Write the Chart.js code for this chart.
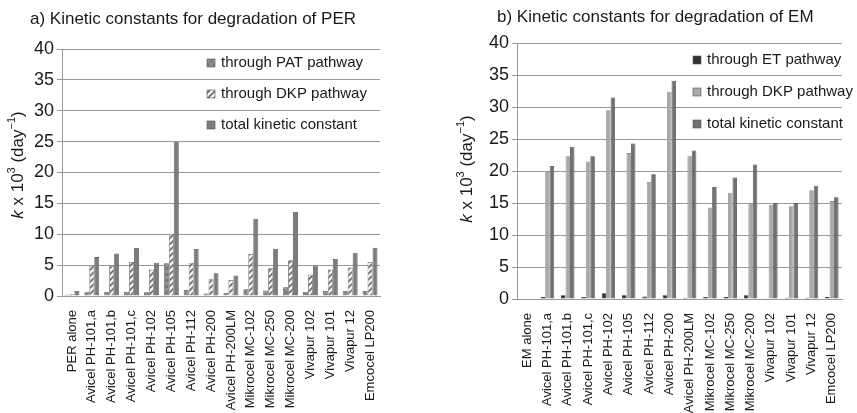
<!DOCTYPE html>
<html>
<head>
<meta charset="utf-8">
<title>Kinetic constants</title>
<style>
  body { margin: 0; background: #fff; }
  .wrap { position: relative; width: 857px; height: 413px; }
  #chartA { position: absolute; left: 0; top: 0; }
  #chartB { position: absolute; left: 430px; top: 0; }
</style>
</head>
<body>
<div class="wrap">
  <canvas id="chartA" width="430" height="413"></canvas>
  <canvas id="chartB" width="427" height="413"></canvas>
</div>
<script src="https://cdn.jsdelivr.net/npm/chart.js@4.4.1/dist/chart.umd.min.js"></script>
<script>
const yTicks = [0, 5, 10, 15, 20, 25, 30, 35, 40]

const perLabels = ['PER alone', 'Avicel PH-101,a', 'Avicel PH-101,b', 'Avicel PH-101,c', 'Avicel PH-102', 'Avicel PH-105',
  'Avicel PH-112', 'Avicel PH-200', 'Avicel PH-200LM', 'Mikrocel MC-102', 'Mikrocel MC-250', 'Mikrocel MC-200',
  'Vivapur 102', 'Vivapur 101', 'Vivapur 12', 'Emcocel LP200']
const perPAT   = [0.2, 0.7, 0.7, 0.7, 0.6, 5.3, 1.0, 0.4, 0.5, 1.1, 0.9, 1.4, 0.7, 0.8, 0.8, 0.8]
const perDKP   = [0.3, 4.9, 4.9, 5.5, 4.3, 10.1, 5.4, 2.7, 2.6, 6.8, 4.5, 5.8, 3.5, 4.3, 4.6, 5.5]
const perTotal = [0.8, 6.3, 6.9, 7.8, 5.4, 25.0, 7.6, 3.7, 3.3, 12.5, 7.6, 13.6, 4.9, 6.0, 7.0, 7.8]

const emLabels = ['EM alone', 'Avicel PH-101,a', 'Avicel PH-101,b', 'Avicel PH-101,c', 'Avicel PH-102', 'Avicel PH-105',
  'Avicel PH-112', 'Avicel PH-200', 'Avicel PH-200LM', 'Mikrocel MC-102', 'Mikrocel MC-250', 'Mikrocel MC-200',
  'Vivapur 102', 'Vivapur 101', 'Vivapur 12', 'Emcocel LP200']
const emET    = [0, 0.3, 0.6, 0.3, 0.9, 0.6, 0.4, 0.6, 0.2, 0.3, 0.3, 0.6, 0.1, 0.2, 0.2, 0.3]
const emDKP   = [0, 20.0, 22.3, 21.5, 29.5, 22.8, 18.3, 32.4, 22.4, 14.3, 16.6, 15.0, 14.7, 14.5, 17.0, 15.3]
const emTotal = [0, 20.8, 23.8, 22.3, 31.5, 24.3, 19.5, 34.1, 23.2, 17.5, 19.0, 21.0, 15.0, 15.0, 17.7, 15.9]

const FONT = 'Liberation Sans, Arial, sans-serif'

function makePattern(kind) {
  let c = document.createElement('canvas')
  c.width = 6; c.height = 6
  let g = c.getContext('2d')
  if (kind === 'hatch') {
    g.fillStyle = '#f4f4f4'
    g.fillRect(0, 0, 6, 6)
    g.strokeStyle = '#6a6a6a'
    g.lineWidth = 1.6
    g.beginPath()
    g.moveTo(-1, 7); g.lineTo(7, -1)
    g.moveTo(-4, 4); g.lineTo(4, -4)
    g.moveTo(2, 10); g.lineTo(10, 2)
    g.stroke()
  } else {
    g.fillStyle = '#929292'
    g.fillRect(0, 0, 6, 6)
    g.fillStyle = '#7a7a7a'
    g.fillRect(0, 0, 3, 3)
    g.fillRect(3, 3, 3, 3)
  }
  return document.createElement('canvas').getContext('2d').createPattern(c, 'repeat')
}

// titles, y title with italic k, and legend drawn inside the plot
const decor = {
  id: 'decor',
  afterDraw(chart, args, o) {
    let ctx = chart.ctx
    ctx.save()
    ctx.fillStyle = '#1a1a1a'
    ctx.textBaseline = 'middle'
    ctx.textAlign = 'left'
    ctx.font = '17px ' + FONT
    ctx.fillText(o.title, o.titleX, o.titleY)

    // y axis title
    ctx.save()
    ctx.translate(o.yTitleX, o.yTitleY)
    ctx.rotate(-Math.PI / 2)
    ctx.textAlign = 'left'
    let parts = [['italic 17px ', 'k', 0], ['17px ', ' x 10', 0], ['11px ', '3', -6], ['17px ', ' (day', 0], ['11px ', '\u22121', -6], ['17px ', ')', 0]]
    let total = 0
    for (let p of parts) { ctx.font = p[0] + FONT; total += ctx.measureText(p[1]).width }
    let x = -total / 2
    for (let p of parts) {
      ctx.font = p[0] + FONT
      ctx.fillText(p[1], x, p[2])
      x += ctx.measureText(p[1]).width
    }
    ctx.restore()

    // legend
    ctx.font = '15px ' + FONT
    chart.data.datasets.forEach((ds, i) => {
      let y = o.legY + i * o.legStep
      ctx.fillStyle = ds.backgroundColor
      ctx.fillRect(o.legX, y - 4, 8, 8)
      ctx.strokeStyle = '#555'
      ctx.lineWidth = 0.6
      ctx.strokeRect(o.legX, y - 4, 8, 8)
      ctx.fillStyle = '#1a1a1a'
      ctx.fillText(ds.label, o.legX + 14, y)
    })
    ctx.restore()
  }
}

function makeChart(id, labels, sets, pad, xHeight, decorOpts, catPct) {
  return new Chart(document.getElementById(id), {
    type: 'bar',
    data: {
      labels: labels,
      datasets: sets.map(s => ({
        label: s.label,
        data: s.data,
        backgroundColor: s.color,
        borderColor: s.border,
        borderWidth: 0.8,
        categoryPercentage: catPct,
        barPercentage: 1
      }))
    },
    options: {
      responsive: false,
      animation: false,
      layout: { padding: pad },
      plugins: { legend: { display: false }, title: { display: false }, tooltip: { enabled: false }, decor: decorOpts },
      scales: {
        x: {
          grid: { display: false },
          border: { color: '#999', width: 1 },
          ticks: { color: '#1a1a1a', font: { family: FONT, size: 13 }, maxRotation: 90, minRotation: 90, autoSkip: false, padding: 6 },
          afterFit: s => { s.height = xHeight }
        },
        y: {
          min: 0, max: 40,
          afterBuildTicks: s => { s.ticks = yTicks.map(v => ({ value: v })) },
          grid: { color: '#9a9a9a', lineWidth: 1, tickLength: 5, drawTicks: true },
          border: { display: true, color: '#999', width: 1 },
          ticks: { color: '#1a1a1a', font: { family: FONT, size: 18 }, padding: 3 },
          afterFit: s => { s.width = pad.yWidth }
        }
      }
    },
    plugins: [decor]
  })
}

let hatch = makePattern('hatch')
let dots = makePattern('dots')

makeChart('chartA', perLabels, [
  { label: 'through PAT pathway', data: perPAT, color: dots, border: '#5a5a5a' },
  { label: 'through DKP pathway', data: perDKP, color: hatch, border: '#666' },
  { label: 'total kinetic constant', data: perTotal, color: '#7c7c7c', border: '#555' }
], { top: 49, left: 0, right: 50, bottom: 0, yWidth: 62 }, 117,
  { title: 'a) Kinetic constants for degradation of PER', titleX: 30, titleY: 19, yTitleX: 18, yTitleY: 165, legX: 207, legY: 63, legStep: 31 }, 0.75)

makeChart('chartB', emLabels, [
  { label: 'through ET pathway', data: emET, color: '#333333', border: '#222' },
  { label: 'through DKP pathway', data: emDKP, color: '#a8a8a8', border: '#8a8a8a' },
  { label: 'total kinetic constant', data: emTotal, color: '#707070', border: '#4a4a4a' }
], { top: 43, left: 0, right: 15, bottom: 0, yWidth: 87 }, 114,
  { title: 'b) Kinetic constants for degradation of EM', titleX: 67, titleY: 17, yTitleX: 37, yTitleY: 169, legX: 263, legY: 60, legStep: 32 }, 0.66)
</script>
</body>
</html>
